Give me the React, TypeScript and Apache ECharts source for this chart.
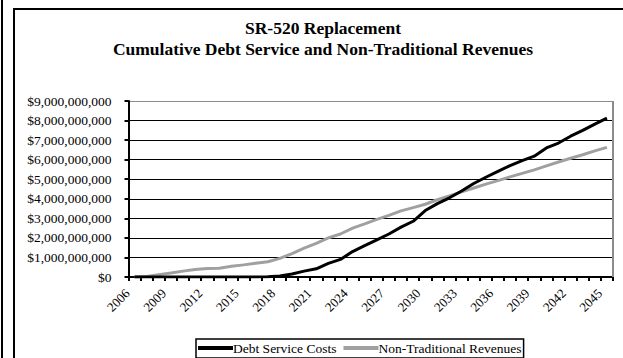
import React, { useEffect, useRef } from "react";
import * as echarts from "echarts";

const years: string[] = [];
for (let y = 2006; y <= 2045; y++) years.push(String(y));

const debtService = [
  0, 0, 0, 0, 0, 0, 0, 0, 0, 0, 0, 0.01,
  0.05, 0.15, 0.3, 0.42, 0.7, 0.9, 1.3, 1.6,
  1.9, 2.2, 2.55, 2.85, 3.4, 3.75, 4.05, 4.4,
  4.78, 5.1, 5.4, 5.7, 5.95, 6.18, 6.6, 6.85,
  7.2, 7.5, 7.82, 8.12,
].map((v) => v * 1e9);

const nonTraditional = [
  0.0, 0.03, 0.12, 0.2, 0.3, 0.38, 0.44, 0.45, 0.55, 0.62,
  0.7, 0.78, 0.95, 1.2, 1.48, 1.72, 2.0, 2.2, 2.5, 2.72,
  2.95, 3.15, 3.38, 3.55, 3.72, 3.95, 4.15, 4.35, 4.55, 4.75,
  4.93, 5.12, 5.3, 5.48, 5.68, 5.88, 6.07, 6.25, 6.45, 6.63,
].map((v) => v * 1e9);

const titleLines = ["SR-520 Replacement", "Cumulative Debt Service and Non-Traditional Revenues"];
const seriesNames = ["Debt Service Costs", "Non-Traditional Revenues"];

const FONT = "Liberation Serif";

export default function App() {
  const ref = useRef<HTMLDivElement>(null);
  useEffect(() => {
    if (!ref.current) return;
    const chart = echarts.init(ref.current, undefined, { renderer: "svg" });
    const splitColors = Array.from({ length: 10 }, (_, i) => (i === 9 ? "#8c8c8c" : "#000"));
    chart.setOption({
      animation: false,
      backgroundColor: "#fff",
      title: {
        text: titleLines.join("\n"),
        left: 318,
        top: 12,
        textAlign: "center",
        textStyle: {
          fontFamily: FONT,
          fontWeight: "bold",
          fontSize: 17.5,
          lineHeight: 21,
          color: "#000",
        },
      },
      graphic: [
        { type: "line", shape: { x1: 2, y1: 0, x2: 2, y2: 358 }, style: { stroke: "#000", lineWidth: 2 } },
        {
          type: "polyline",
          shape: { points: [[14, 358], [14, 9], [623, 9]] },
          style: { stroke: "#000", lineWidth: 2, fill: null },
        },
        { type: "line", shape: { x1: 613, y1: 101, x2: 613, y2: 277 }, style: { stroke: "#8c8c8c", lineWidth: 2 }, z: 10 },
      ],
      legend: {
        left: 196,
        top: 339,
        data: seriesNames,
        icon: "rect",
        itemWidth: 35,
        itemHeight: 4,
        itemGap: 7,
        padding: [2, 2, 3, 2],
        borderColor: "#000",
        borderWidth: 1.5,
        textStyle: { fontFamily: FONT, fontSize: 13.5, color: "#000", padding: [0, 0, 0, -5] },
      },
      grid: { left: 128.5, right: 10, top: 101, bottom: 81, containLabel: false },
      xAxis: {
        type: "category",
        data: years,
        boundaryGap: true,
        axisLine: { lineStyle: { color: "#000", width: 2 } },
        axisTick: { show: true, interval: 0, length: 4, lineStyle: { color: "#000", width: 2 } },
        axisLabel: {
          interval: 2,
          rotate: 45,
          fontFamily: FONT,
          fontSize: 13,
          color: "#000",
          margin: 7,
          padding: [0, 10, 0, 0],
        },
      },
      yAxis: {
        type: "value",
        min: 0,
        max: 9e9,
        interval: 1e9,
        axisLine: { show: true, lineStyle: { color: "#000", width: 2 } },
        axisTick: { show: true, length: 4, lineStyle: { color: "#000", width: 2 } },
        axisLabel: {
          fontFamily: FONT,
          fontSize: 13.5,
          color: "#000",
          margin: 17,
          formatter: (v: number) => "$" + Math.round(v).toLocaleString("en-US"),
        },
        splitLine: { show: true, lineStyle: { color: splitColors, width: 1 } },
      },
      series: [
        {
          name: seriesNames[0],
          type: "line",
          data: debtService,
          symbol: "none",
          lineStyle: { color: "#000", width: 3 },
          itemStyle: { color: "#000" },
          z: 3,
        },
        {
          name: seriesNames[1],
          type: "line",
          data: nonTraditional,
          symbol: "none",
          lineStyle: { color: "#a0a0a0", width: 3 },
          itemStyle: { color: "#a0a0a0" },
          z: 2,
        },
      ],
    });
    return () => chart.dispose();
  }, []);
  return (
    <div
      ref={ref}
      style={{ position: "fixed", left: 0, top: 0, width: 623, height: 358, background: "#fff" }}
    />
  );
}
